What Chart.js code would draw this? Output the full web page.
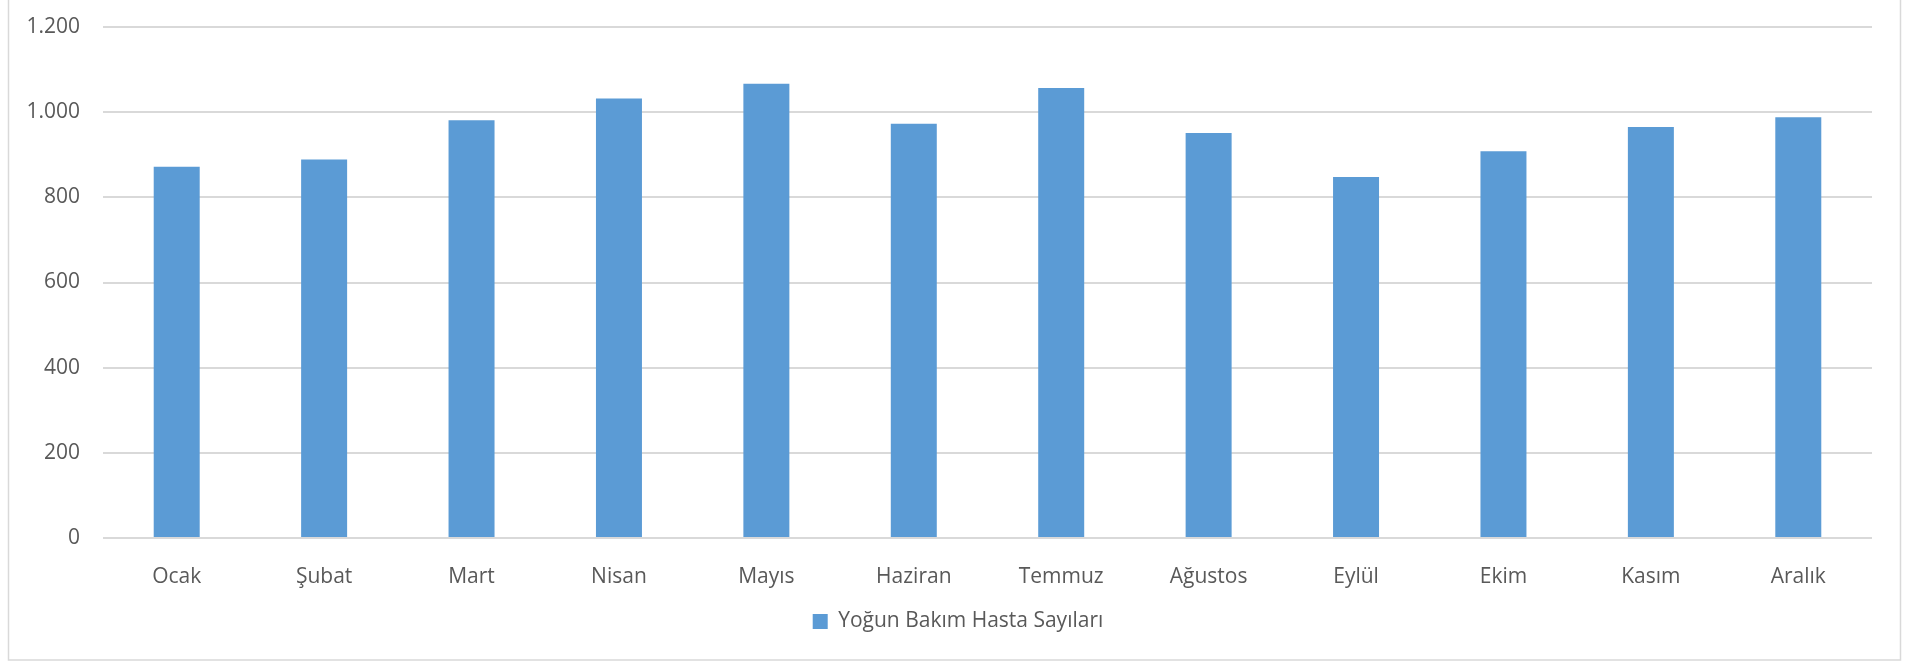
<!DOCTYPE html>
<html>
<head>
<meta charset="utf-8">
<script src="https://cdn.jsdelivr.net/npm/chart.js@4/dist/chart.umd.min.js"></script>
<style>
  html, body { margin: 0; padding: 0; background: #fff; }
  #wrap { width: 1921px; height: 662px; }
</style>
</head>
<body>
<div id="wrap"><canvas id="chart" width="1921" height="662"></canvas></div>
<script>
// Monthly ICU patient counts
const months = ['Ocak', 'Şubat', 'Mart', 'Nisan', 'Mayıs', 'Haziran', 'Temmuz', 'Ağustos', 'Eylül', 'Ekim', 'Kasım', 'Aralık'];
const patients = [872, 889, 981, 1032, 1067, 973, 1057, 951, 848, 908, 965, 988];
const seriesLabel = 'Yoğun Bakım Hasta Sayıları';
const yTicks = [0, 200, 400, 600, 800, 1000, 1200];

const TEXT = '#595959';
const GRID = '#d9d9d9';
const BAR = '#5b9bd5';

// thousands separator as dot (tr)
const fmt = v => String(v).replace(/\B(?=(\d{3})+(?!\d))/g, '.');

// outer chart frame + legend centred on the frame rather than the plot
const frame = {
  id: 'frame',
  afterLayout(chart) {
    chart.legend.left += 22;
    chart.legend.right += 22;
  },
  beforeDraw(chart) {
    const ctx = chart.ctx;
    ctx.save();
    ctx.strokeStyle = GRID;
    ctx.lineWidth = 1.5;
    ctx.strokeRect(8.5, -4, 1892, 664);
    ctx.restore();
  },
};

new Chart(document.getElementById('chart'), {
  type: 'bar',
  data: {
    labels: months,
    datasets: [{
      label: seriesLabel,
      data: patients,
      backgroundColor: BAR,
      borderWidth: 0,
      categoryPercentage: 1,
      barPercentage: 0.312,
    }],
  },
  options: {
    responsive: false,
    animation: false,
    layout: { padding: { top: 27, right: 49, bottom: 20, left: 0 } },
    scales: {
      x: {
        grid: { display: false },
        border: { display: false },
        ticks: { color: TEXT, font: { family: 'Open Sans', size: 21 }, padding: 18, maxRotation: 0 },
        afterFit: s => { s.height = 63; },
      },
      y: {
        min: 0,
        max: 1200,
        afterBuildTicks: s => { s.ticks = yTicks.map(v => ({ value: v })); },
        grid: { color: GRID, lineWidth: 2, drawTicks: false },
        border: { display: false },
        ticks: { color: TEXT, font: { family: 'Open Sans', size: 21 }, padding: 23, callback: v => fmt(v) },
        afterFit: s => { s.width = 103; s.paddingTop = 12; s.paddingBottom = 12; },
      },
    },
    plugins: {
      legend: {
        position: 'bottom',
        labels: { color: TEXT, font: { family: 'Open Sans', size: 21 }, boxWidth: 15, boxHeight: 15, padding: 10 },
      },
      tooltip: { enabled: false },
    },
  },
  plugins: [frame],
});
</script>
</body>
</html>
